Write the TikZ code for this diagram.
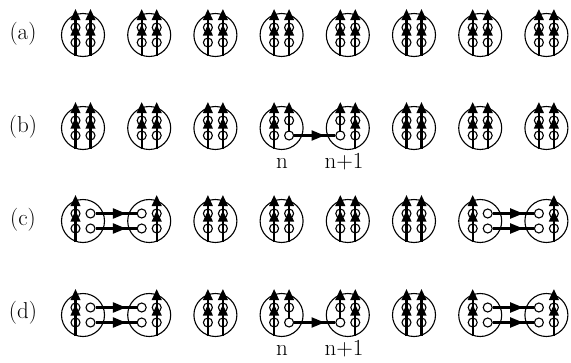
\documentclass[tikz,border=0pt]{standalone}
\usetikzlibrary{arrows.meta,decorations.markings}
\tikzset{
  site/.style={circle, draw, line width=1.1pt, minimum size=43pt, inner sep=0pt},
  orb/.style={circle, draw, fill=white, line width=1.1pt, minimum size=9pt, inner sep=0pt},
  spin/.style={line width=2.1pt, -{Triangle[length=11pt,width=9.5pt]}},
  hop/.style={line width=2.1pt, postaction={decorate},
    decoration={markings, mark=at position 0.74 with {\arrow{Triangle[length=13pt,width=10pt]}}}},
  lbl/.style={font=\fontsize{23}{27}\selectfont, inner sep=0pt}
}
% name, index, y, ul, ur, ll, lr
\newcommand\mysite[7]{%
  \pgfmathsetmacro\sx{83+66.2*(#2-1)}%
  \pgfmathsetmacro\sy{#3}%
  \node[site] (#1) at (\sx,\sy) {};
  \node[orb] (#1-ul) at ({\sx-7.5},{\sy-7.5}) {};
  \node[orb] (#1-ur) at ({\sx+7.5},{\sy-7.5}) {};
  \node[orb] (#1-ll) at ({\sx-7.5},{\sy+7.5}) {};
  \node[orb] (#1-lr) at ({\sx+7.5},{\sy+7.5}) {};
  \ifnum#6=1 \draw[spin] ([yshift=-13.5pt]#1-ll.center) -- ([yshift=18pt]#1-ll.center);\fi
  \ifnum#7=1 \draw[spin] ([yshift=-13.5pt]#1-lr.center) -- ([yshift=18pt]#1-lr.center);\fi
  \ifnum#4=1 \draw[spin] ([yshift=-11pt]#1-ul.center) -- ([yshift=18.5pt]#1-ul.center);\fi
  \ifnum#5=1 \draw[spin] ([yshift=-11pt]#1-ur.center) -- ([yshift=18.5pt]#1-ur.center);\fi
}
\begin{document}
\begin{tikzpicture}[x=1pt,y=-1pt]
\useasboundingbox (0,0) rectangle (571,362);
% row labels
\node[lbl] (la) at (23,34) {(a)};
\node[lbl] (lb) at (23,127) {(b)};
\node[lbl] (lc) at (23,220) {(c)};
\node[lbl] (ld) at (23,313) {(d)};
% row a
\foreach \i in {1,...,8} {\mysite{a\i}{\i}{35}{1}{1}{1}{1}}
% row b
\foreach \p/\q/\s/\t [count=\i] in {1/1/1/1,1/1/1/1,1/1/1/1,1/1/1/0,1/1/0/1,1/1/1/1,1/1/1/1,1/1/1/1}
  {\mysite{b\i}{\i}{128}{\p}{\q}{\s}{\t}}
% row c
\foreach \p/\q/\s/\t [count=\i] in {1/0/1/0,0/1/0/1,1/1/1/1,1/1/1/1,1/1/1/1,1/1/1/1,1/0/1/0,0/1/0/1}
  {\mysite{c\i}{\i}{221}{\p}{\q}{\s}{\t}}
% row d
\foreach \p/\q/\s/\t [count=\i] in {1/0/1/0,0/1/0/1,1/1/1/1,1/1/1/0,1/1/0/1,1/1/1/1,1/0/1/0,0/1/0/1}
  {\mysite{d\i}{\i}{315}{\p}{\q}{\s}{\t}}
% hopping arrows
\draw[hop] (b4-lr) -- (b5-ll);
\draw[hop] (c1-ur) -- (c2-ul);
\draw[hop] (c1-lr) -- (c2-ll);
\draw[hop] (c7-ur) -- (c8-ul);
\draw[hop] (c7-lr) -- (c8-ll);
\draw[hop] (d1-ur) -- (d2-ul);
\draw[hop] (d1-lr) -- (d2-ll);
\draw[hop] (d4-lr) -- (d5-ll);
\draw[hop] (d7-ur) -- (d8-ul);
\draw[hop] (d7-lr) -- (d8-ll);
% site labels
\node[lbl, anchor=base] (nb) at (282,168) {n};
\node[lbl, anchor=base] (n1b) at (344,168) {n+1};
\node[lbl, anchor=base] (nd) at (282,355) {n};
\node[lbl, anchor=base] (n1d) at (344,355) {n+1};
\end{tikzpicture}
\end{document}
